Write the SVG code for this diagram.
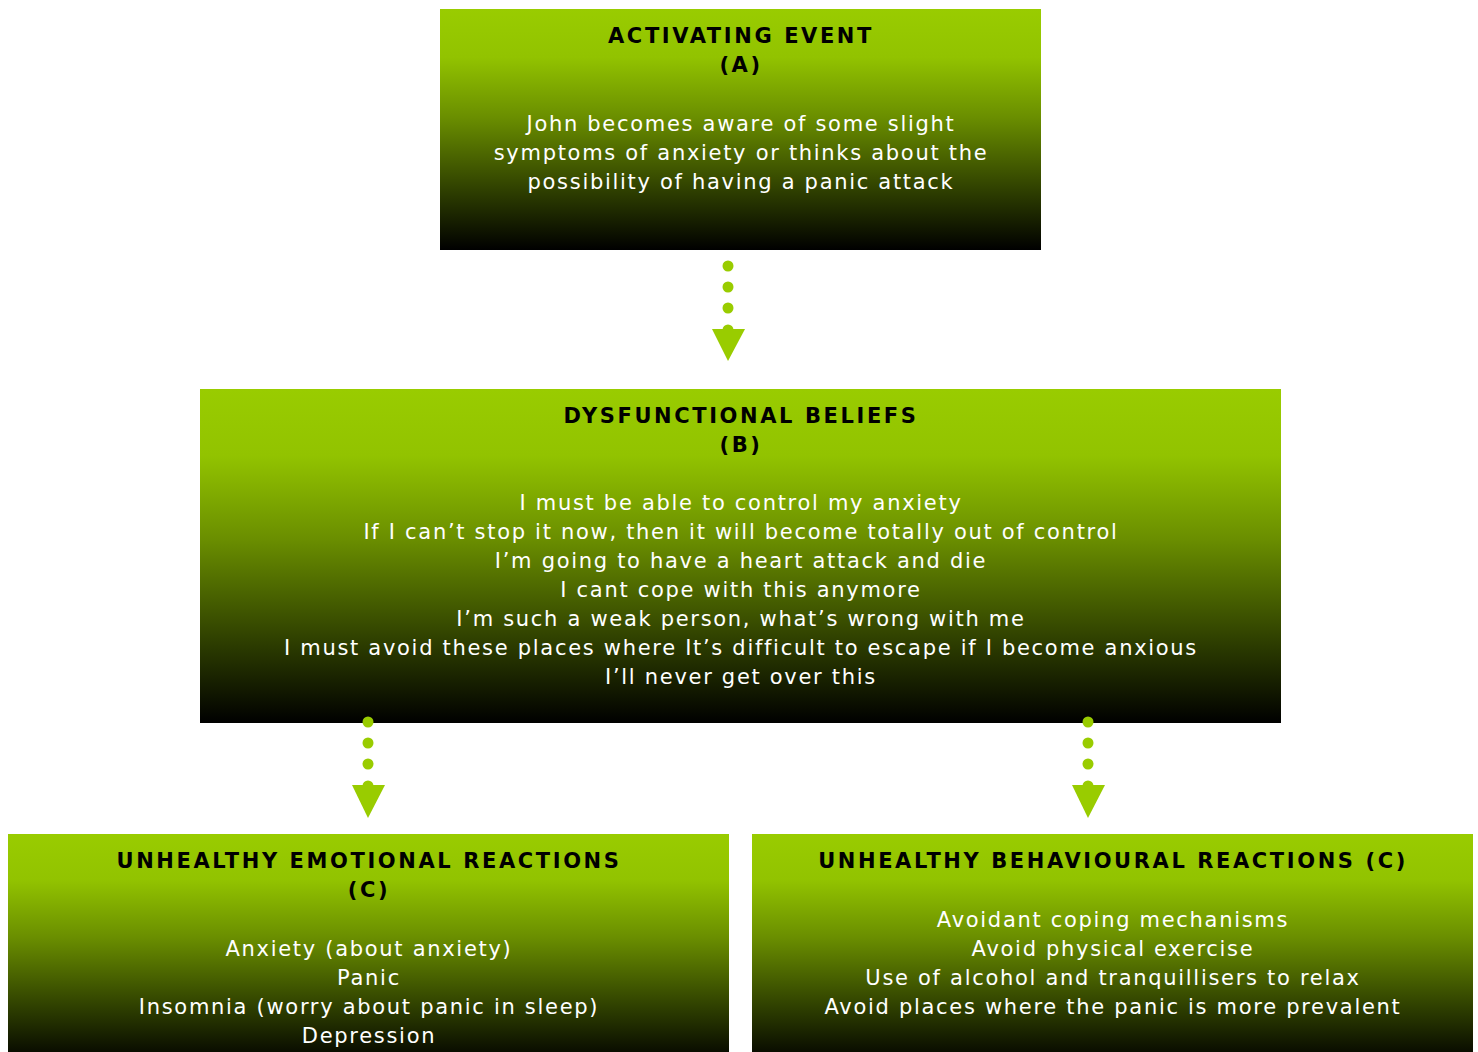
<svg xmlns="http://www.w3.org/2000/svg" width="1478" height="1052" viewBox="0 0 1478 1052">
<defs>
<linearGradient id="g" x1="0" y1="0" x2="0" y2="1">
<stop offset="0" stop-color="#99cc00"/>
<stop offset="0.2" stop-color="#92c300"/>
<stop offset="0.45" stop-color="#6a8e00"/>
<stop offset="0.75" stop-color="#2f4000"/>
<stop offset="1" stop-color="#000000"/>
</linearGradient>
<style>
.box{fill:url(#g)}
.t{font-family:"DejaVu Sans",Verdana,sans-serif;font-size:21px;font-weight:bold;fill:#000;text-anchor:middle;letter-spacing:2.6px}
.b{font-family:"DejaVu Sans",Verdana,sans-serif;font-size:21px;fill:#fff;text-anchor:middle;letter-spacing:1.7px}
.dot{fill:#99cc00}
</style>
</defs>
<rect width="1478" height="1052" fill="#fff"/>
<g id="nodeA">
<rect class="box" x="440" y="9" width="601" height="241"/>
<text class="t" x="741" y="43">ACTIVATING EVENT</text>
<text class="t" x="741" y="72">(A)</text>
<text class="b" x="741" y="131">John becomes aware of some slight</text>
<text class="b" x="741" y="160">symptoms of anxiety or thinks about the</text>
<text class="b" x="741" y="189">possibility of having a panic attack</text>
</g>
<g id="nodeB">
<rect class="box" x="200" y="389" width="1081" height="334"/>
<text class="t" x="741" y="423">DYSFUNCTIONAL BELIEFS</text>
<text class="t" x="741" y="452">(B)</text>
<text class="b" x="741" y="510">I must be able to control my anxiety</text>
<text class="b" x="741" y="539">If I can’t stop it now, then it will become totally out of control</text>
<text class="b" x="741" y="568">I’m going to have a heart attack and die</text>
<text class="b" x="741" y="597">I cant cope with this anymore</text>
<text class="b" x="741" y="626">I’m such a weak person, what’s wrong with me</text>
<text class="b" x="741" y="655">I must avoid these places where It’s difficult to escape if I become anxious</text>
<text class="b" x="741" y="684">I’ll never get over this</text>
</g>
<g id="nodeC1">
<rect class="box" x="8" y="834" width="721" height="230"/>
<text class="t" x="369" y="868">UNHEALTHY EMOTIONAL REACTIONS</text>
<text class="t" x="369" y="897">(C)</text>
<text class="b" x="369" y="956">Anxiety (about anxiety)</text>
<text class="b" x="369" y="985">Panic</text>
<text class="b" x="369" y="1014">Insomnia (worry about panic in sleep)</text>
<text class="b" x="369" y="1043">Depression</text>
</g>
<g id="nodeC2">
<rect class="box" x="752" y="834" width="721" height="230"/>
<text class="t" x="1113" y="868">UNHEALTHY BEHAVIOURAL REACTIONS (C)</text>
<text class="b" x="1113" y="927">Avoidant coping mechanisms</text>
<text class="b" x="1113" y="956">Avoid physical exercise</text>
<text class="b" x="1113" y="985">Use of alcohol and tranquillisers to relax</text>
<text class="b" x="1113" y="1014">Avoid places where the panic is more prevalent</text>
</g>
<g id="connectors">
<g id="c1">
<circle class="dot" cx="728" cy="266" r="5.5"/>
<circle class="dot" cx="728" cy="287" r="5.5"/>
<circle class="dot" cx="728" cy="308" r="5.5"/>
<circle class="dot" cx="728" cy="330" r="5.5"/>
<polygon class="dot" points="712,329 745,329 728,361"/>
</g>
<g id="c2">
<circle class="dot" cx="368" cy="722" r="5.5"/>
<circle class="dot" cx="368" cy="743" r="5.5"/>
<circle class="dot" cx="368" cy="764" r="5.5"/>
<circle class="dot" cx="368" cy="786" r="5.5"/>
<polygon class="dot" points="352,785 385,785 368,818"/>
</g>
<g id="c3">
<circle class="dot" cx="1088" cy="722" r="5.5"/>
<circle class="dot" cx="1088" cy="743" r="5.5"/>
<circle class="dot" cx="1088" cy="764" r="5.5"/>
<circle class="dot" cx="1088" cy="786" r="5.5"/>
<polygon class="dot" points="1072,785 1105,785 1088,818"/>
</g>
</g>
</svg>
